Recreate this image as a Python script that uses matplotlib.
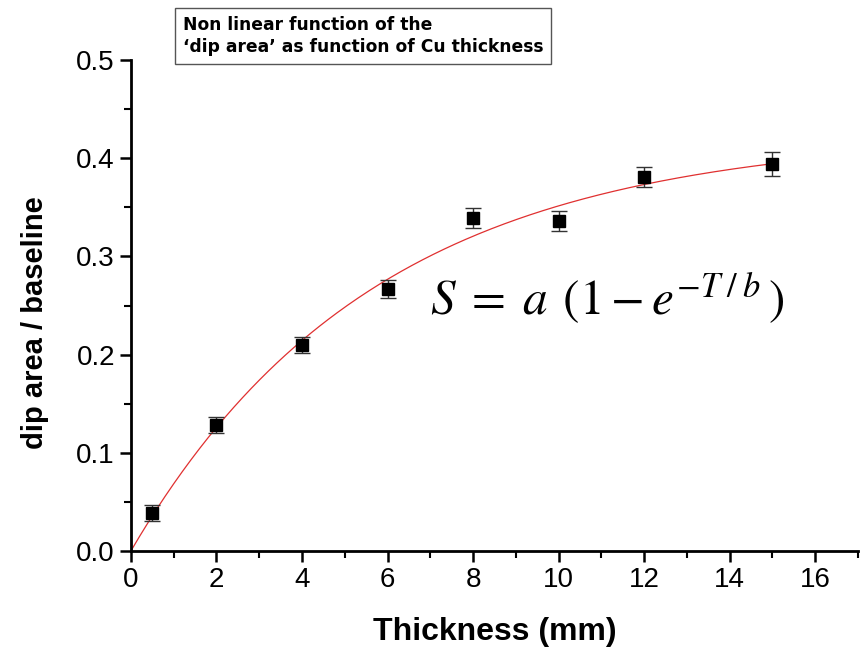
import numpy as np
import matplotlib.pyplot as plt
from matplotlib.ticker import MultipleLocator

# measured points
thickness = [0.5, 2, 4, 6, 8, 10, 12, 15]
dip_ratio = [0.039, 0.128, 0.210, 0.267, 0.339, 0.336, 0.381, 0.394]
dip_err = [0.008, 0.008, 0.008, 0.009, 0.010, 0.010, 0.010, 0.012]

# fit parameters of S = a (1 - exp(-T/b))
fit_a = 0.425
fit_b = 5.7

plt.rcParams["font.family"] = "Liberation Sans"
plt.rcParams["mathtext.fontset"] = "stix"

fig = plt.figure(figsize=(8.61, 6.51), dpi=100)
ax = fig.add_axes([0.152, 0.1536, 0.8445, 0.7542])

T = np.linspace(0, thickness[-1], 300)
ax.plot(T, fit_a * (1 - np.exp(-T / fit_b)), color='#e03030', lw=0.9, zorder=2)
ax.errorbar(thickness, dip_ratio, yerr=dip_err, fmt='s', color='black', ms=8,
            ecolor='#333333', elinewidth=1, capsize=6, capthick=1, zorder=3)

ax.set_xlim(0, 17)
ax.set_ylim(0, 0.5)
ax.xaxis.set_major_locator(MultipleLocator(2))
ax.xaxis.set_minor_locator(MultipleLocator(1))
ax.yaxis.set_major_locator(MultipleLocator(0.1))
ax.yaxis.set_minor_locator(MultipleLocator(0.05))
ax.yaxis.set_major_formatter(plt.FormatStrFormatter('%.1f'))
for s in ['top', 'right']:
    ax.spines[s].set_visible(False)
for s in ['left', 'bottom']:
    ax.spines[s].set_linewidth(2)
ax.tick_params(which='major', direction='out', length=8, width=1.8, labelsize=20)
ax.tick_params(which='minor', direction='out', length=5, width=1.5)

ax.set_xlabel('Thickness (mm)', fontsize=23, fontweight='bold')
ax.set_ylabel('dip area / baseline', fontsize=21, fontweight='bold')
ax.xaxis.set_label_coords(0.5, -0.135)
ax.yaxis.set_label_coords(-0.112, 0.466)

ax.text(0.411, 0.515, r'$S\;=\;a\;\,(1-e^{-T\;/\;b}\,)$', transform=ax.transAxes,
        fontsize=35.5, va='center', ha='left')

fig.text(0.212, 0.945, "Non linear function of the\n\u2018dip area\u2019 as function of Cu thickness",
         fontsize=12.3, fontweight='bold', family='DejaVu Sans', va='center', ha='left',
         linespacing=1.3,
         bbox=dict(boxstyle='square,pad=0.45', fc='white', ec='#555555', lw=1))

fig.savefig('out.png', dpi=100)
